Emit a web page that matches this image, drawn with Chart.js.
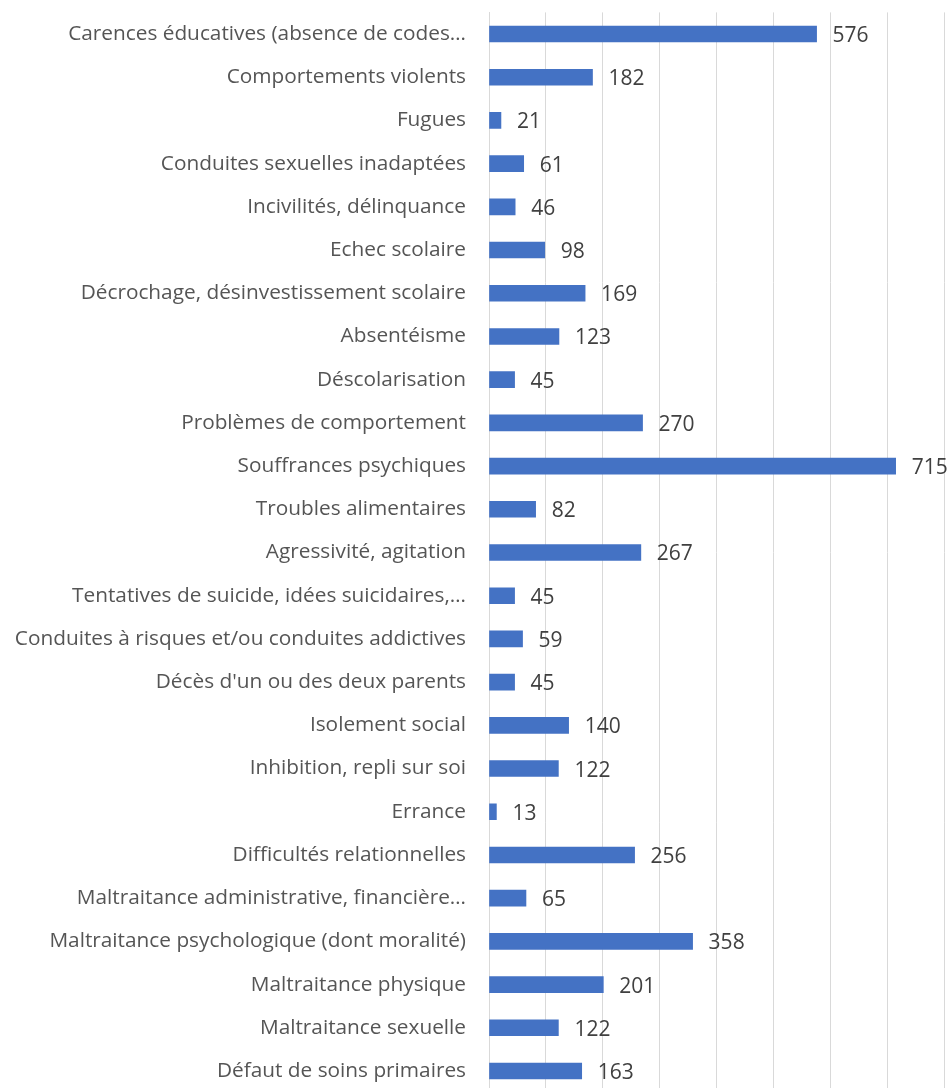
<!DOCTYPE html>
<html lang="fr">
<head>
<meta charset="utf-8">
<script src="https://cdn.jsdelivr.net/npm/chart.js@4/dist/chart.umd.min.js"></script>
<style>
  html, body { margin: 0; padding: 0; background: #fff; overflow: hidden; }
  #wrap { position: relative; width: 949px; height: 1100px; }
</style>
</head>
<body>
<div id="wrap"><canvas id="barChart"></canvas></div>
<script>
const categories = [
    'Carences éducatives (absence de codes…',
    'Comportements violents',
    'Fugues',
    'Conduites sexuelles inadaptées',
    'Incivilités, délinquance',
    'Echec scolaire',
    'Décrochage, désinvestissement scolaire',
    'Absentéisme',
    'Déscolarisation',
    'Problèmes de comportement',
    'Souffrances psychiques',
    'Troubles alimentaires',
    'Agressivité, agitation',
    'Tentatives de suicide, idées suicidaires,…',
    'Conduites à risques et/ou conduites addictives',
    "Décès d'un ou des deux parents",
    'Isolement social',
    'Inhibition, repli sur soi',
    'Errance',
    'Difficultés relationnelles',
    'Maltraitance administrative, financière…',
    'Maltraitance psychologique (dont moralité)',
    'Maltraitance physique',
    'Maltraitance sexuelle',
    'Défaut de soins primaires'
];

const counts = [576, 182, 21, 61, 46, 98, 169, 123, 45, 270, 715, 82, 267, 45, 59, 45, 140, 122, 13, 256, 65, 358, 201, 122, 163];

const xMax = 800;
const xStep = 100;

const FONT = '"Open Sans", "Noto Sans", sans-serif';

// value printed just right of each bar
const valueLabels = {
    id: 'valueLabels',
    afterDatasetsDraw(chart) {
        const ctx = chart.ctx;
        const meta = chart.getDatasetMeta(0);
        ctx.save();
        ctx.font = '21px ' + FONT;
        ctx.fillStyle = '#404040';
        ctx.textAlign = 'left';
        ctx.textBaseline = 'middle';
        meta.data.forEach((bar, i) => {
            ctx.fillText(String(counts[i]), bar.x + 16, bar.y + 2);
        });
        ctx.restore();
    }
};

document.addEventListener('DOMContentLoaded', () => {
    const ctx = document.getElementById('barChart');
    new Chart(ctx.getContext('2d'), {
        type: 'bar',
        data: {
            labels: categories,
            datasets: [{
                data: counts,
                backgroundColor: '#4472C4',
                barThickness: 16
            }]
        },
        options: {
            indexAxis: 'y',
            responsive: true,
            maintainAspectRatio: false,
            animation: false,
            layout: { padding: { top: 12.4, bottom: 7.4, left: 0, right: 5 } },
            plugins: {
                legend: { display: false },
                tooltip: { enabled: false }
            },
            scales: {
                x: {
                    min: 0,
                    max: xMax,
                    ticks: { display: false, stepSize: xStep },
                    grid: { color: '#d9d9d9', lineWidth: 1, drawTicks: false },
                    border: { display: false }
                },
                y: {
                    grid: { display: false },
                    border: { color: '#d9d9d9' },
                    ticks: {
                        color: '#555555',
                        font: { family: FONT, size: 20.8 },
                        padding: 15,
                        autoSkip: false
                    },
                    afterFit(scale) {
                        scale.width = 489;
                        scale.paddingTop = 0;
                        scale.paddingBottom = 0;
                    }
                }
            }
        },
        plugins: [valueLabels]
    });
});
</script>
</body>
</html>
